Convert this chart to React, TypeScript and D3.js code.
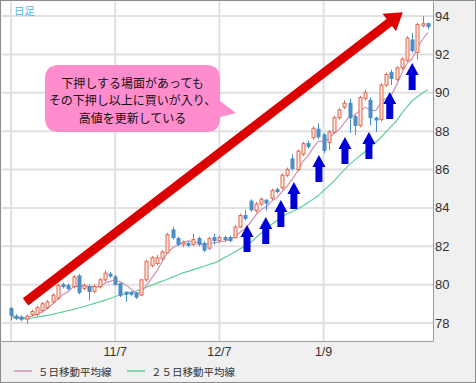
import React from 'react';
import * as d3 from 'd3';

const W = 476;
const H = 383;

// OHLC per trading day (index 0..80)
const opens = [78.75,78.35,78.30,78.20,78.45,78.45,78.65,78.80,79.10,79.30,80.00,79.95,79.90,80.45,79.80,79.90,79.65,79.90,80.25,80.55,80.40,80.05,79.60,79.60,79.55,79.45,80.25,81.00,81.10,81.35,81.65,82.85,82.40,82.10,82.15,82.10,82.40,82.15,81.90,82.45,82.30,82.45,82.45,82.45,83.00,83.60,84.35,83.85,84.20,84.40,84.50,84.95,85.05,85.70,86.55,86.00,86.80,87.35,87.65,88.10,87.80,87.40,87.95,88.70,89.25,89.45,88.75,88.30,89.70,89.60,88.68,88.60,90.40,91.05,90.70,91.30,91.70,92.75,92.10,93.50,93.60];
const closes = [78.40,78.25,78.20,78.35,78.60,78.80,79.00,79.10,79.45,79.95,79.90,79.80,80.40,79.60,79.95,79.65,79.90,80.25,80.60,80.45,80.00,79.45,79.50,79.50,79.35,80.25,81.20,81.40,81.40,81.70,82.60,82.45,82.10,82.20,82.05,82.35,82.10,81.80,82.40,82.30,82.45,82.35,82.30,83.00,83.60,83.45,83.90,84.20,84.45,84.25,84.90,84.85,85.70,86.00,86.05,86.95,87.35,87.20,88.15,87.70,87.00,87.95,88.70,89.10,89.45,88.70,88.30,89.75,90.00,88.70,88.58,90.40,90.95,90.75,91.30,91.75,92.85,92.20,93.55,93.60,93.45];
const highs = [78.85,78.45,78.40,78.45,78.70,78.90,79.10,79.20,79.55,80.05,80.10,80.05,80.50,80.55,80.05,80.00,80.00,80.35,80.75,80.65,80.50,80.10,79.65,79.65,79.60,80.30,81.30,81.50,81.55,81.80,82.70,83.00,82.50,82.30,82.25,82.65,82.50,82.25,82.50,82.65,82.55,82.55,82.55,83.10,83.70,83.90,84.45,84.30,84.55,84.45,85.00,85.05,85.80,86.10,86.80,87.05,87.45,87.50,88.25,88.40,87.90,88.05,88.80,89.20,89.60,89.70,88.85,89.85,90.15,89.75,88.75,90.50,91.05,91.20,91.40,91.85,92.95,93.10,93.65,94.00,93.65];
const lows = [78.15,78.15,78.10,77.95,78.35,78.35,78.55,78.70,79.00,79.20,79.80,79.70,79.80,79.50,79.70,79.20,79.55,79.80,80.15,80.35,79.95,79.35,79.10,79.40,79.25,79.40,80.15,80.90,81.00,81.25,81.60,82.35,82.00,81.95,81.95,82.00,82.00,81.70,81.80,82.10,82.20,82.25,82.20,82.40,82.95,83.35,83.80,83.75,84.10,83.85,84.40,84.75,84.95,85.60,85.95,85.90,86.70,87.10,87.55,87.60,86.85,87.00,87.85,88.60,89.15,87.90,87.80,88.20,89.60,88.30,87.95,88.50,90.30,90.40,90.60,91.20,91.60,92.10,91.75,93.40,93.30];

// 25-day moving average
const ma25 = [78.31,78.26,78.24,78.22,78.26,78.31,78.36,78.40,78.45,78.52,78.58,78.65,78.71,78.78,78.86,78.94,79.02,79.10,79.18,79.28,79.38,79.46,79.53,79.60,79.67,79.75,79.86,79.97,80.08,80.18,80.28,80.39,80.50,80.61,80.69,80.78,80.87,80.96,81.05,81.13,81.25,81.41,81.56,81.71,81.87,82.03,82.20,82.44,82.68,82.92,83.13,83.33,83.54,83.68,83.81,83.94,84.10,84.28,84.45,84.64,84.89,85.15,85.41,85.69,85.98,86.27,86.50,86.72,86.94,87.16,87.42,87.67,87.97,88.25,88.54,88.92,89.27,89.58,89.79,89.99,90.16];

const yTicks = [78, 80, 82, 84, 86, 88, 90, 92, 94];
const xGridIdx = [0, 20, 40, 60];
const xTickIdx = [20, 40, 60];
const xTickLabels = ['11/7', '12/7', '1/9'];

// blue arrows: [candle position, price at arrow tip]
const arrowPos = [45.3, 48.9, 51.8, 54.3, 59.1, 64.1, 68.7, 72.7, 77.0];
const arrowTip = [83.11, 83.53, 84.41, 85.35, 86.76, 87.69, 87.95, 90.04, 91.55];

// big red trend arrow: [start pos, start price], [tip pos, tip price]
const trendStart = [2.8, 79.1];
const trendEnd = [75.2, 94.2];

const calloutLines = ['下押しする場面があっても', 'その下押し以上に買いが入り、', '高値を更新している'];
const legendLabels = ['５日移動平均線', '２５日移動平均線'];

const x = d3.scaleLinear().domain([0, 80]).range([11, 427.8]);
const y = d3.scaleLinear().domain([78, 94]).range([323, 16]);

const ma5 = closes.map((_, i) => {
  const s = closes.slice(Math.max(0, i - 4), i + 1);
  return d3.mean(s) as number;
});

const PLOT = { l: 1.5, t: 1.5, r: 433.5, b: 341.5 };
const RED = '#e2694f';
const RED_FILL = '#fde6dd';
const BLUE = '#4a8dc8';
const MA5C = '#cf8fb4';
const MA25C = '#5fce98';

export default function App() {
  const line = d3.line<number>().x((_, i) => x(i)).y((d) => y(d));

  const arrows = arrowPos.map((p, k) => {
    const cx = x(p);
    const ty = y(arrowTip[k]);
    const hw = 6.5, sw = 3.5, hh = 12, tot = 27;
    return `M${cx},${ty} L${cx + hw},${ty + hh} L${cx + sw},${ty + hh} L${cx + sw},${ty + tot} L${cx - sw},${ty + tot} L${cx - sw},${ty + hh} L${cx - hw},${ty + hh} Z`;
  });

  const sx = x(trendStart[0]), sy = y(trendStart[1]);
  const ex = x(trendEnd[0]), ey = y(trendEnd[1]);
  const dx = ex - sx, dy = ey - sy;
  const len = Math.hypot(dx, dy);
  const ux = dx / len, uy = dy / len;
  const nx = -uy, ny = ux;
  const th = 4.5, hl = 17, hw2 = 11;
  const bx = ex - ux * hl, by = ey - uy * hl;
  const trendPath = [
    [sx + nx * th, sy + ny * th],
    [bx + nx * th, by + ny * th],
    [bx + nx * hw2, by + ny * hw2],
    [ex, ey],
    [bx - nx * hw2, by - ny * hw2],
    [bx - nx * th, by - ny * th],
    [sx - nx * th, sy - ny * th],
  ].map((p, i) => `${i ? 'L' : 'M'}${p[0]},${p[1]}`).join(' ') + ' Z';

  // callout box
  const cL = 45, cT = 65, cR = 220, cB = 132, rr = 14;
  const callout = `M${cL + rr},${cT} L${cR - rr},${cT} Q${cR},${cT} ${cR},${cT + rr} L${cR},${cT + 36} L${cR + 16},${cT + 48} L${cR},${cT + 52} L${cR},${cB - rr} Q${cR},${cB} ${cR - rr},${cB} L${cL + rr},${cB} Q${cL},${cB} ${cL},${cB - rr} L${cL},${cT + rr} Q${cL},${cT} ${cL + rr},${cT} Z`;

  return (
    <svg width={W} height={H} style={{ position: 'absolute', left: 0, top: 0 }}
      fontFamily="'Liberation Sans', Arial, sans-serif">
      <defs>
        <clipPath id="plotclip">
          <rect x={PLOT.l} y={PLOT.t} width={PLOT.r - PLOT.l} height={PLOT.b - PLOT.t} />
        </clipPath>
      </defs>
      <rect x={0.5} y={0.5} width={W - 1} height={H - 1} fill="#f0f0f0" stroke="#8c8c8c" />
      <rect x={PLOT.l} y={PLOT.t} width={PLOT.r - PLOT.l} height={PLOT.b - PLOT.t} fill="#fff" />
      <g clipPath="url(#plotclip)">
        {yTicks.map((t) => (
          <line key={'h' + t} x1={PLOT.l} x2={PLOT.r} y1={y(t)} y2={y(t)} stroke="#e0e0e0" strokeWidth={2} />
        ))}
        {xGridIdx.map((i) => (
          <line key={'v' + i} x1={x(i)} x2={x(i)} y1={PLOT.t} y2={PLOT.b} stroke="#e0e0e0" strokeWidth={2} />
        ))}
        <path d={line(ma25) || ''} fill="none" stroke={MA25C} strokeWidth={1.2} />
        <path d={line(ma5) || ''} fill="none" stroke={MA5C} strokeWidth={1.2} />
        {opens.map((o, i) => {
          const c = closes[i];
          const up = c >= o;
          const col = up ? RED : BLUE;
          const cx = Math.round(x(i)) + 0.5;
          const top = y(Math.max(o, c));
          const bot = y(Math.min(o, c));
          return (
            <g key={'c' + i}>
              <line x1={cx} x2={cx} y1={y(highs[i])} y2={y(lows[i])} stroke={col} strokeWidth={1} />
              <rect x={cx - 1.5} y={top} width={3} height={Math.max(1, bot - top)}
                fill={up ? RED_FILL : BLUE} stroke={col} strokeWidth={1} />
            </g>
          );
        })}
        <path d={trendPath} fill="#dd0000" />
        {arrows.map((d, k) => <path key={'a' + k} d={d} fill="#0000d6" />)}
        <path d={callout} fill="#ff8ccc" />
        {calloutLines.map((t, k) => (
          <text key={'t' + k} x={(cL + cR) / 2} y={82 + k * 17.5} textAnchor="middle" dominantBaseline="central"
            fontSize={12} fontFamily="'Noto Sans CJK JP', sans-serif" fill="#111">{t}</text>
        ))}
        <text x={14} y={10} fontSize={10.5} fill="#4fb8ea" dominantBaseline="central"
          fontFamily="'Noto Sans CJK JP', sans-serif">日足</text>
      </g>
      <line x1={PLOT.r} x2={PLOT.r} y1={PLOT.t} y2={PLOT.b} stroke="#9a9a9a" />
      <line x1={PLOT.l} x2={PLOT.r} y1={PLOT.b} y2={PLOT.b} stroke="#9a9a9a" />
      {yTicks.map((t) => (
        <text key={'yl' + t} x={435} y={y(t)} fontSize={13} fill="#333" dominantBaseline="central">{t}</text>
      ))}
      {xTickIdx.map((i, k) => (
        <text key={'xl' + i} x={x(i)} y={352} fontSize={12.5} fill="#333" textAnchor="middle" dominantBaseline="central">{xTickLabels[k]}</text>
      ))}
      <line x1={14} x2={32} y1={371} y2={371} stroke={MA5C} strokeWidth={1.5} />
      <text x={38} y={371} fontSize={10.5} fill="#333" dominantBaseline="central"
        fontFamily="'Noto Sans CJK JP', sans-serif">{legendLabels[0]}</text>
      <line x1={127} x2={145} y1={371} y2={371} stroke={MA25C} strokeWidth={1.5} />
      <text x={151} y={371} fontSize={10.5} fill="#333" dominantBaseline="central"
        fontFamily="'Noto Sans CJK JP', sans-serif">{legendLabels[1]}</text>
    </svg>
  );
}
